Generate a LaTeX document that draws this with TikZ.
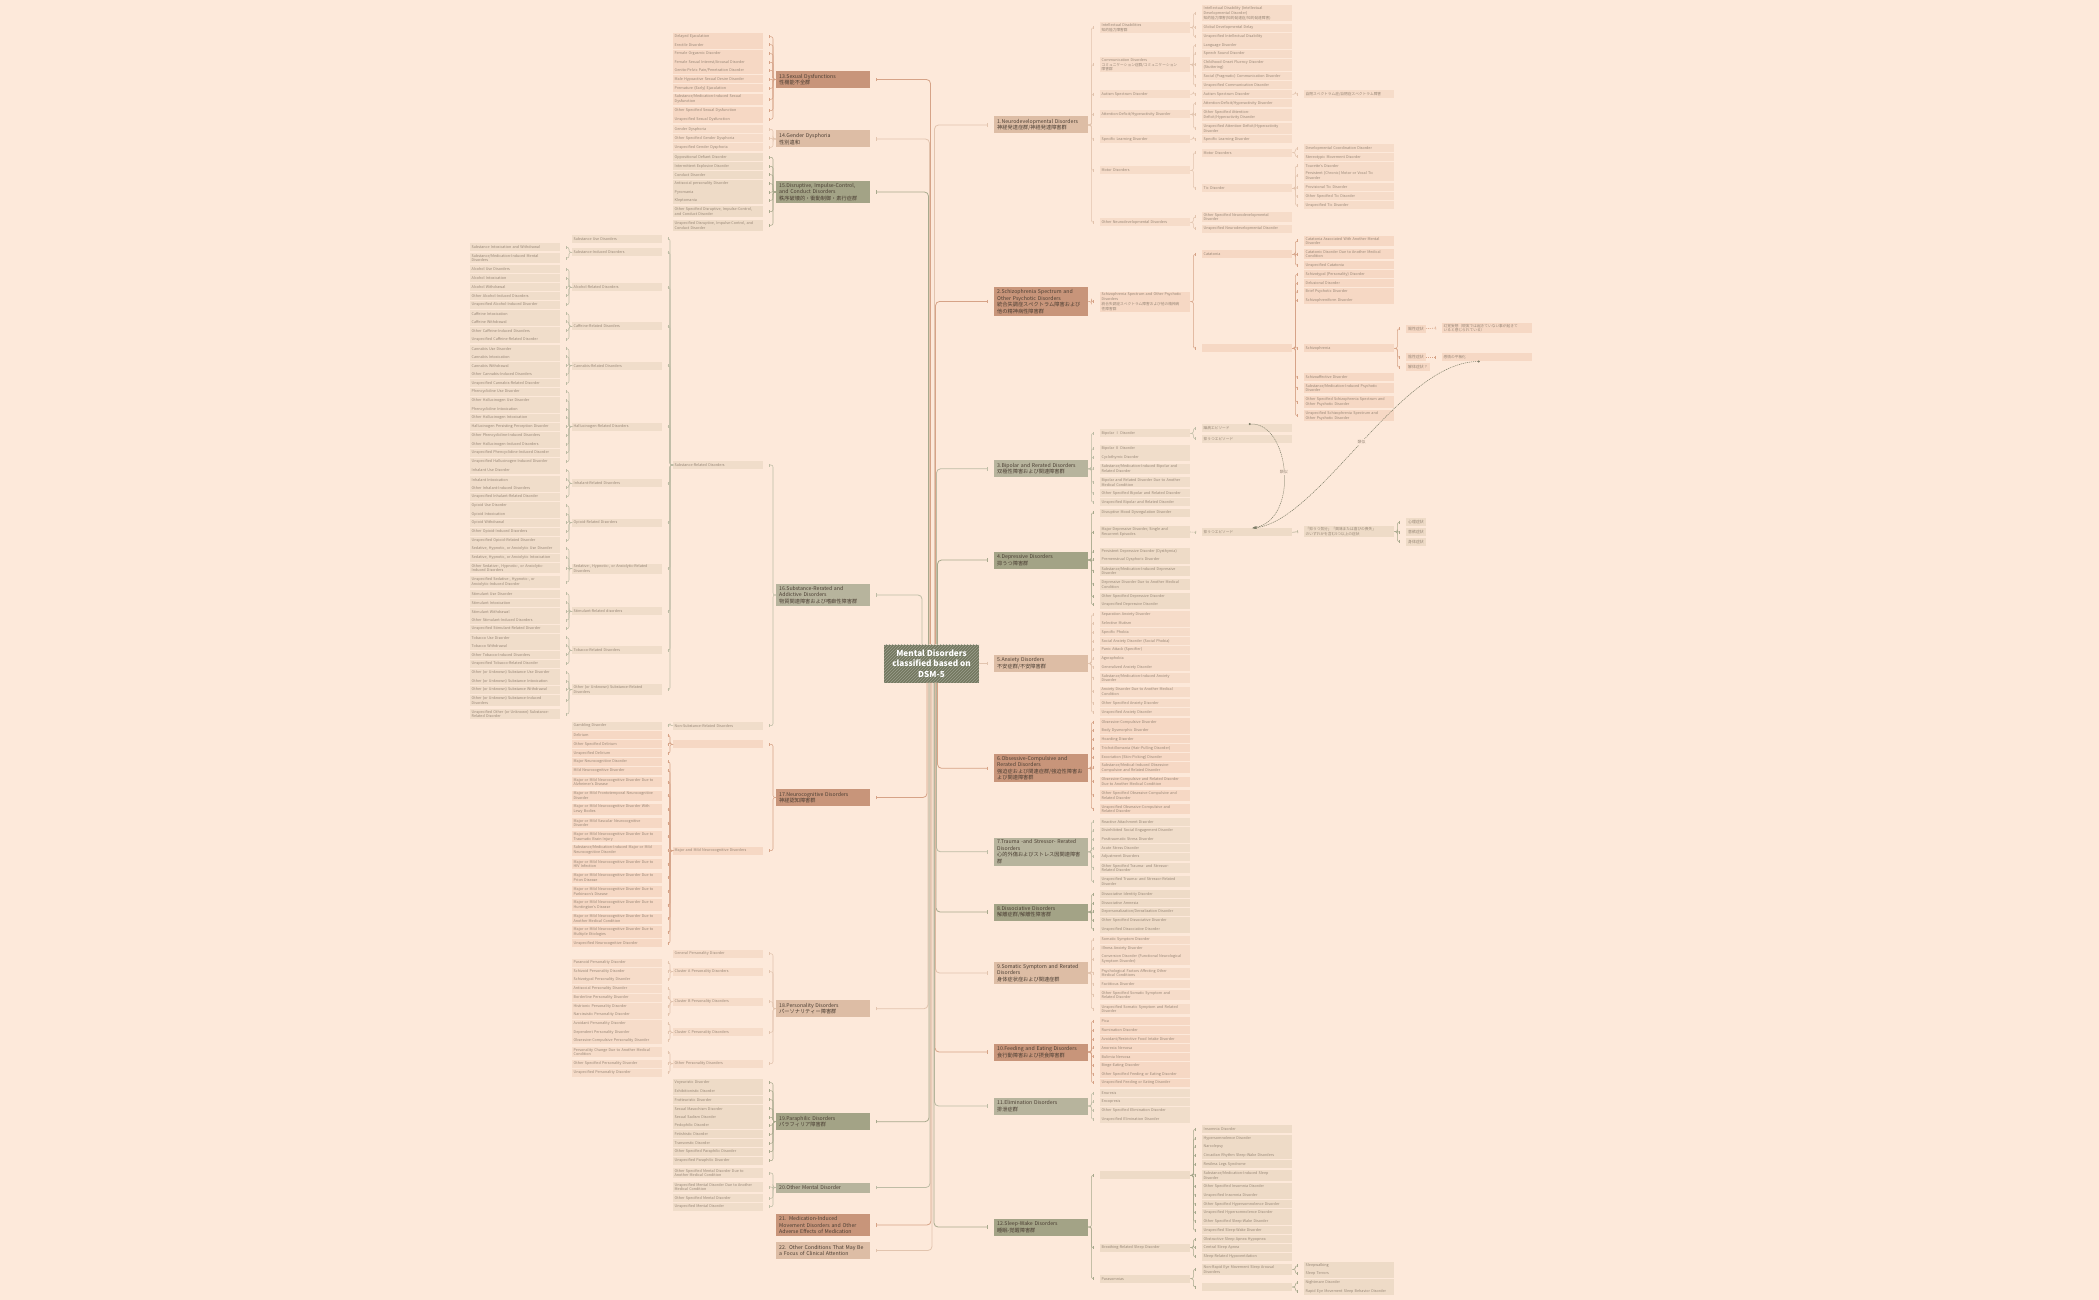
\documentclass[tikz,border=0pt]{standalone}
\usepackage{fontspec}
\setmainfont{Noto Sans CJK JP}
\usetikzlibrary{arrows.meta,patterns}
\XeTeXlinebreaklocale "ja"
\XeTeXlinebreakskip=0pt plus 0.5pt
\definecolor{bg}{HTML}{FDE9DA}
\definecolor{cT}{HTML}{C8957A}
\definecolor{cN}{HTML}{DDBDA5}
\definecolor{cG}{HTML}{B7B49D}
\definecolor{cO}{HTML}{A3A386}
\definecolor{lnT}{HTML}{D6A387}
\definecolor{lnN}{HTML}{E2C4AE}
\definecolor{lnG}{HTML}{BEBCA5}
\definecolor{lnO}{HTML}{A8A98D}
\definecolor{lfT}{HTML}{F6D8C4}
\definecolor{lfN}{HTML}{F6DCC9}
\definecolor{lfG}{HTML}{F0DDCA}
\definecolor{lfO}{HTML}{EEDBC7}
\definecolor{lftx}{HTML}{978676}
\definecolor{ctx}{HTML}{4B3E33}
\definecolor{rootc}{HTML}{73775F}
\definecolor{relc}{HTML}{7E7E68}
\newcommand\kidsR[4]{\foreach [count=\ci] \yy/\txt in {#4}{\node[leaf=#3] (#1-\ci) at (#2,\yy) {\txt}; \draw[conn=#3] (#1.east) -- ++(3,0) |- ([xshift=-6pt]#1-\ci.west);}}
\newcommand\kidsL[4]{\foreach [count=\ci] \yy/\txt in {#4}{\node[leaf=#3] (#1-\ci) at (#2,\yy) {\txt}; \draw[conn=#3] (#1.west) -- ++(-3,0) |- ([xshift=6pt]#1-\ci.east);}}
\begin{document}
\begin{tikzpicture}[x=1pt,y=-1pt,
  leaf/.style={fill=lf#1,text=lftx,font=\fontsize{3.7}{4.8}\selectfont,text width=87pt,inner xsep=1.5pt,inner ysep=1.3pt,minimum height=8pt,align=left,anchor=west},
  sm/.style={fill=lf#1,text=lftx,font=\fontsize{3.9}{4.8}\selectfont,inner xsep=2pt,inner ysep=1.3pt,minimum height=8pt,anchor=west},
  cat/.style={fill=c#1,text=ctx,font=\fontsize{5.2}{6.5}\selectfont,text width=88pt,inner xsep=3pt,inner ysep=2pt,minimum height=17pt,align=left,anchor=west},
  conn/.style={draw=ln#1,line width=0.55pt,rounded corners=2pt,-{Bar[width=3pt,line width=0.55pt]}},
  trunk/.style={draw=ln#1,line width=0.8pt,rounded corners=4pt,-{Bar[width=3.5pt,line width=0.7pt]}},
  rel/.style={draw=relc,line width=0.5pt,dash pattern=on 1.2pt off 0.8pt,{Circle[length=2pt]}-{Stealth[length=4pt,width=3pt]}},
  lbl/.style={fill=bg,text=lftx,font=\fontsize{3.9}{4.8}\selectfont,inner sep=0.8pt}]
\useasboundingbox (0,0) rectangle (2099,1300);
\fill[bg] (0,0) rectangle (2099,1300);

% ---------- root ----------
\node[fill=rootc,postaction={pattern=north east lines,pattern color=rootc!70!white},text=white,font=\bfseries\fontsize{8.2}{10.5}\selectfont,align=center,minimum width=95pt,minimum height=38pt,inner sep=1pt] (root) at (931.5,663.5) {Mental Disorders\\classified based on\\DSM-5};

% ---------- categories ----------
\node[cat=N] (c1) at (994,125) {1.Neurodevelopmental Disorders\\神経発達症群/神経発達障害群};
\node[cat=T] (c2) at (994,301.5) {2.Schizophrenia Spectrum and\\Other Psychotic Disorders\\統合失調症スペクトラム障害および\\他の精神病性障害群};
\node[cat=G] (c3) at (994,468.8) {3.Bipolar and Rerated Disorders\\双極性障害および関連障害群};
\node[cat=O] (c4) at (994,560) {4.Depressive Disorders\\抑うつ障害群};
\node[cat=N] (c5) at (994,663.5) {5.Anxiety Disorders\\不安症群/不安障害群};
\node[cat=T] (c6) at (994,768.3) {6.Obsessive-Compulsive and\\Rerated Disorders\\強迫症および関連症群/強迫性障害お\\よび関連障害群};
\node[cat=G] (c7) at (994,851.8) {7.Trauma -and Stressor- Rerated\\Disorders\\心的外傷およびストレス因関連障害\\群};
\node[cat=O] (c8) at (994,912) {8.Dissociative Disorders\\解離症群/解離性障害群};
\node[cat=N] (c9) at (994,973) {9.Somatic Symptom and Rerated\\Disorders\\身体症状症および関連症群};
\node[cat=T] (c10) at (994,1052) {10.Feeding and Eating Disorders\\食行動障害および摂食障害群};
\node[cat=G] (c11) at (994,1106) {11.Elimination Disorders\\排泄症群};
\node[cat=O] (c12) at (994,1227) {12.Sleep-Wake Disorders\\睡眠-覚醒障害群};
\node[cat=T] (c13) at (776,79.5) {13.Sexual Dysfunctions\\性機能不全群};
\node[cat=N] (c14) at (776,139) {14.Gender Dysphoria\\性別違和};
\node[cat=O] (c15) at (776,192) {15.Disruptive, Impulse-Control,\\and Conduct Disorders\\秩序破壊的・衝動制御・素行症群};
\node[cat=G] (c16) at (776,595) {16.Substance-Rerated and\\Addictive Disorders\\物質関連障害および嗜癖性障害群};
\node[cat=T] (c17) at (776,797.5) {17.Neurocognitive Disorders\\神経認知障害群};
\node[cat=N] (c18) at (776,1008.7) {18.Personality Disorders\\パーソナリティー障害群};
\node[cat=O] (c19) at (776,1121.7) {19.Paraphilic Disorders\\パラフィリア障害群};
\node[cat=G,minimum height=10pt] (c20) at (776,1187.5) {20.Other Mental Disorder};
\node[cat=T] (c21) at (776,1225) {21. Medication-Induced\\Movement Disorders and Other\\Adverse Effects of Medication};
\node[cat=N] (c22) at (776,1250.5) {22. Other Conditions That May Be\\a Focus of Clinical Attention};

% ---------- trunk ----------
\draw[trunk=N] ([xshift=3pt]root.north) |- ([xshift=-6pt]c1.west);
\draw[trunk=T] ([xshift=4pt]root.north) |- ([xshift=-6pt]c2.west);
\draw[trunk=G] ([xshift=5pt]root.north) |- ([xshift=-6pt]c3.west);
\draw[trunk=O] ([xshift=6pt]root.north) |- ([xshift=-6pt]c4.west);
\draw[trunk=N] (root.east) -- ([xshift=-6pt]c5.west);
\draw[trunk=T] ([xshift=6pt]root.south) |- ([xshift=-6pt]c6.west);
\draw[trunk=G] ([xshift=5pt]root.south) |- ([xshift=-6pt]c7.west);
\draw[trunk=O] ([xshift=4.5pt]root.south) |- ([xshift=-6pt]c8.west);
\draw[trunk=N] ([xshift=4pt]root.south) |- ([xshift=-6pt]c9.west);
\draw[trunk=T] ([xshift=3.5pt]root.south) |- ([xshift=-6pt]c10.west);
\draw[trunk=G] ([xshift=3pt]root.south) |- ([xshift=-6pt]c11.west);
\draw[trunk=O] ([xshift=2.5pt]root.south) |- ([xshift=-6pt]c12.west);
\draw[trunk=T] ([xshift=-1pt]root.north) |- ([xshift=6pt]c13.east);
\draw[trunk=N] ([xshift=-2pt]root.north) |- ([xshift=6pt]c14.east);
\draw[trunk=O] ([xshift=-3pt]root.north) |- ([xshift=6pt]c15.east);
\draw[trunk=G] ([xshift=-9.5pt]root.north) |- ([xshift=6pt]c16.east);
\draw[trunk=T] ([xshift=-4.5pt]root.south) |- ([xshift=6pt]c17.east);
\draw[trunk=N] ([xshift=-3.5pt]root.south) |- ([xshift=6pt]c18.east);
\draw[trunk=O] ([xshift=-2.5pt]root.south) |- ([xshift=6pt]c19.east);
\draw[trunk=G] ([xshift=-1.5pt]root.south) |- ([xshift=6pt]c20.east);
\draw[trunk=T] ([xshift=-0.5pt]root.south) |- ([xshift=6pt]c21.east);
\draw[trunk=N] ([xshift=0.5pt]root.south) |- ([xshift=6pt]c22.east);

% ---------- left side ----------
\kidsL{c13}{673}{T}{36.7/{Delayed Ejaculation},44.7/{Erectile Disorder},53.7/{Female Orgasmic Disorder},62.3/{Female Sexual Interest/Arousal Disorder},70.3/{Genito-Pelvic Pain/Penetration Disorder},79.3/{Male Hypoactive Sexual Desire Disorder},88.3/{Premature (Early) Ejaculation},99.3/{Substance/Medication-Induced Sexual\\Dysfunction},110.7/{Other Specified Sexual Dysfunction},119.3/{Unspecified Sexual Dysfunction}}
\kidsL{c14}{673}{N}{129.3/{Gender Dysphoria},138.3/{Other Specified Gender Dysphoria},147.3/{Unspecified Gender Dysphoria}}
\kidsL{c15}{673}{O}{157.3/{Oppositional Defiant Disorder},166.3/{Intermittent Explosive Disorder},174.7/{Conduct Disorder},183.7/{Antisocial personality Disorder},192.3/{Pyromania},200.3/{Kleptomania},211.7/{Other Specified Disruptive, Impulse-Control,\\and Conduct Disorder},225.3/{Unspecified Disruptive, Impulse-Control, and\\Conduct Disorder}}
\kidsL{c16}{673}{G}{465/{Substance-Related Disorders},725.7/{Non-Substance-Related Disorders}}
\kidsL{c16-1}{572}{G}{238.7/{Substance Use Disorders},252.3/{Substance-Induced Disorders},287.3/{Alcohol-Related Disorders},326.3/{Caffeine-Related Disorders},365.7/{Cannabis-Related Disorders},426.7/{Hallucinogen-Related Disorders},483.3/{Inhalant-Related Disorders},522.7/{Opioid-Related Disorders},568.7/{Sedative-, Hypnotic-, or Anxiolytic-Related\\Disorders},611.3/{Stimulant-Related disorders},650.3/{Tobacco-Related Disorders},689.7/{Other (or Unknown) Substance-Related\\Disorders}}
\kidsL{c16-2}{572}{G}{725.7/{Gambling Disorder}}
\kidsL{c16-1-2}{470}{G}{247.3/{Substance Intoxication and Withdrawal},258/{Substance/Medication-Induced Mental\\Disorders}}
\kidsL{c16-1-3}{470}{G}{269.3/{Alcohol Use Disorders},278.3/{Alcohol Intoxication},287.3/{Alcohol Withdrawal},295.7/{Other Alcohol-Induced Disorders},304.7/{Unspecified Alcohol-Induced Disorder}}
\kidsL{c16-1-4}{470}{G}{313.7/{Caffeine Intoxication},321.7/{Caffeine Withdrawal},330.7/{Other Caffeine-Induced Disorders},339.3/{Unspecified Caffeine-Related Disorder}}
\kidsL{c16-1-5}{470}{G}{348.7/{Cannabis Use Disorder},356.7/{Cannabis Intoxication},365.7/{Cannabis Withdrawal},374.3/{Other Cannabis-Induced Disorders},383.3/{Unspecified Cannabis-Related Disorder}}
\kidsL{c16-1-6}{470}{G}{391.7/{Phencyclidine Use Disorder},400.7/{Other Hallucinogen Use Disorder},409.3/{Phencyclidine Intoxication},417.7/{Other Hallucinogen Intoxication},426.7/{Hallucinogen Persisting Perception Disorder},435.7/{Other Phencyclidine-Induced Disorders},444.3/{Other Hallucinogen-Induced Disorders},452.7/{Unspecified Phencyclidine-Induced Disorder},461.7/{Unspecified Hallucinogen-Induced Disorder}}
\kidsL{c16-1-7}{470}{G}{470.3/{Inhalant Use Disorder},479.7/{Inhalant Intoxication},487.7/{Other Inhalant-Induced Disorders},496.7/{Unspecified Inhalant-Related Disorder}}
\kidsL{c16-1-8}{470}{G}{505.7/{Opioid Use Disorder},514/{Opioid Intoxication},522.7/{Opioid Withdrawal},531.7/{Other Opioid-Induced Disorders},540.7/{Unspecified Opioid-Related Disorder}}
\kidsL{c16-1-9}{470}{G}{548.7/{Sedative, Hypnotic, or Anxiolytic Use Disorder},557.7/{Sedative, Hypnotic, or Anxiolytic Intoxication},568/{Other Sedative-, Hypnotic-, or Anxiolytic-\\Induced Disorders},582/{Unspecified Sedative-, Hypnotic-, or\\Anxiolytic-Induced Disorder}}
\kidsL{c16-1-10}{470}{G}{593.7/{Stimulant Use Disorder},602.7/{Stimulant Intoxication},611.7/{Stimulant Withdrawal},620/{Other Stimulant-Induced Disorders},628.7/{Unspecified Stimulant-Related Disorder}}
\kidsL{c16-1-11}{470}{G}{637.7/{Tobacco Use Disorder},645.7/{Tobacco Withdrawal},654.7/{Other Tobacco-Induced Disorders},663.7/{Unspecified Tobacco-Related Disorder}}
\kidsL{c16-1-12}{470}{G}{672.7/{Other (or Unknown) Substance Use Disorder},681/{Other (or Unknown) Substance Intoxication},689.7/{Other (or Unknown) Substance Withdrawal},700.7/{Other (or Unknown) Substance-Induced\\Disorders},714/{Unspecified Other (or Unknown) Substance-\\Related Disorder}}
\kidsL{c17}{673}{T}{744.3/{},850.7/{Major and Mild Neurocognitive Disorders}}
\kidsL{c17-1}{572}{T}{735.3/{Delirium},744.3/{Other Specified Delirium},753.3/{Unspecified Delirium}}
\kidsL{c17-2}{572}{T}{761.7/{Major Neurocognitive Disorder},770.7/{Mild Neurocognitive Disorder},782/{Major or Mild Neurocognitive Disorder Due to\\Alzheimer's Disease},795.7/{Major or Mild Frontotemporal Neurocognitive\\Disorder},809.3/{Major or Mild Neurocognitive Disorder With\\Lewy Bodies},823/{Major or Mild Vascular Neurocognitive\\Disorder},836.7/{Major or Mild Neurocognitive Disorder Due to\\Traumatic Brain Injury},850.3/{Substance/Medication-Induced Major or Mild\\Neurocognitive Disorder},864/{Major or Mild Neurocognitive Disorder Due to\\HIV Infection},877.7/{Major or Mild Neurocognitive Disorder Due to\\Prion Disease},891.3/{Major or Mild Neurocognitive Disorder Due to\\Parkinson's Disease},905/{Major or Mild Neurocognitive Disorder Due to\\Huntington's Disease},918.7/{Major or Mild Neurocognitive Disorder Due to\\Another Medical Condition},932/{Major or Mild Neurocognitive Disorder Due to\\Multiple Etiologies},943.3/{Unspecified Neurocognitive Disorder}}
\kidsL{c18}{673}{N}{953.7/{General Personality Disorder},971.7/{Cluster A Personality Disorders},1001.7/{Cluster B Personality Disorders},1032.3/{Cluster C Personality Disorders},1063.7/{Other Personality Disorders}}
\kidsL{c18-2}{572}{N}{962.7/{Paranoid Personality Disorder},971.7/{Schizoid Personality Disorder},979.7/{Schizotypal Personality Disorder}}
\kidsL{c18-3}{572}{N}{988.7/{Antisocial Personality Disorder},997.7/{Borderline Personality Disorder},1006.7/{Histrionic Personality Disorder},1014.7/{Narcissistic Personality Disorder}}
\kidsL{c18-4}{572}{N}{1023.7/{Avoidant Personality Disorder},1032.3/{Dependent Personality Disorder},1040.3/{Obsessive-Compulsive Personality Disorder}}
\kidsL{c18-5}{572}{N}{1052/{Personality Change Due to Another Medical\\Condition},1063.7/{Other Specified Personality Disorder},1072.7/{Unspecified Personality Disorder}}
\kidsL{c19}{673}{O}{1082.7/{Voyeuristic Disorder},1090.7/{Exhibitionistic Disorder},1099.7/{Frotteuristic Disorder},1108.7/{Sexual Masochism Disorder},1117.3/{Sexual Sadism Disorder},1125.3/{Pedophilic Disorder},1134.3/{Fetishistic Disorder},1143.3/{Transvestic Disorder},1151.7/{Other Specified Paraphilic Disorder},1160.7/{Unspecified Paraphilic Disorder}}
\kidsL{c20}{673}{G}{1173/{Other Specified Mental Disorder Due to\\Another Medical Condition},1187/{Unspecified Mental Disorder Due to Another\\Medical Condition},1198.3/{Other Specified Mental Disorder},1206.7/{Unspecified Mental Disorder}}

% ---------- right side ----------
\kidsR{c1}{1100}{N}{27.7/{Intellectual Disabilities\\知的能力障害群},64.7/{Communication Disorders\\コミュニケーション症群/コミュニケーション\\障害群},94.3/{Autism Spectrum Disorder},114.3/{Attention-Deficit/Hyperactivity Disorder},139.3/{Specific Learning Disorder},170.3/{Motor Disorders},222.3/{Other Neurodevelopmental Disorders}}
\kidsR{c1-1}{1202}{N}{13.3/{Intellectual Disability (Intellectual\\Developmental Disorder)\\知的能力障害(知的発達症/知的発達障害)},27.7/{Global Developmental Delay},36.7/{Unspecified Intellectual Disability}}
\kidsR{c1-2}{1202}{N}{45.3/{Language Disorder},53.7/{Speech Sound Disorder},65/{Childhood-Onset Fluency Disorder\\(Stuttering)},76.3/{Social (Pragmatic) Communication Disorder},85.3/{Unspecified Communication Disorder}}
\kidsR{c1-3}{1202}{N}{94.3/{Autism Spectrum Disorder}}
\kidsR{c1-3-1}{1304}{N}{94.3/{自閉スペクトラム症/自閉症スペクトラム障害}}
\kidsR{c1-4}{1202}{N}{103.3/{Attention-Deficit/Hyperactivity Disorder},115/{Other Specified Attention-\\Deficit/Hyperactivity Disorder},128.3/{Unspecified Attention-Deficit/Hyperactivity\\Disorder}}
\kidsR{c1-5}{1202}{N}{139.3/{Specific Learning Disorder}}
\kidsR{c1-6}{1202}{N}{152.7/{Motor Disorders},188.3/{Tic Disorder}}
\kidsR{c1-6-1}{1304}{N}{148.5/{Developmental Coordination Disorder},157/{Stereotypic Movement Disorder}}
\kidsR{c1-6-2}{1304}{N}{166/{Tourette's Disorder},175.5/{Persistent (Chronic) Motor or Vocal Tic\\Disorder},187.5/{Provisional Tic Disorder},196.5/{Other Specified Tic Disorder},205.5/{Unspecified Tic Disorder}}
\kidsR{c1-7}{1202}{N}{217/{Other Specified Neurodevelopmental\\Disorder},228.7/{Unspecified Neurodevelopmental Disorder}}

\kidsR{c2}{1100}{T}{301.7/{Schizophrenia Spectrum and Other Psychotic\\Disorders\\統合失調症スペクトラム障害および他の精神病\\性障害群}}
\kidsR{c2-1}{1202}{T}{254.3/{Catatonia},348.3/{}}
\kidsR{c2-1-1}{1304}{T}{241/{Catatonia Associated With Another Mental\\Disorder},254/{Catatonic Disorder Due to Another Medical\\Condition},265.3/{Unspecified Catatonia}}
\kidsR{c2-1-2}{1304}{T}{274.3/{Schizotypal (Personality) Disorder},283.3/{Delusional Disorder},291.7/{Brief Psychotic Disorder},300.3/{Schizophreniform Disorder},348.3/{Schizophrenia},377.3/{Schizoaffective Disorder},388/{Substance/Medication-Induced Psychotic\\Disorder},402/{Other Specified Schizophrenia Spectrum and\\Other Psychotic Disorder},415.7/{Unspecified Schizophrenia Spectrum and\\Other Psychotic Disorder}}
\node[sm=T] (sz1) at (1406,328.7) {陽性症状};
\node[sm=T] (sz2) at (1406,357.3) {陰性症状};
\node[sm=T] (sz3) at (1406,367.3) {解体症状？};
\foreach \s in {sz1,sz2,sz3} \draw[conn=T] (c2-1-2-5.east) -- ++(3,0) |- ([xshift=-6pt]\s.west);
\node[leaf=T] (sz1a) at (1442,328) {幻覚妄想（現実では起きていない事が起きて\\いると感じられている）};
\node[leaf=T] (sz2a) at (1442,357.3) {感情の平板化};
\draw[conn=T,dash pattern=on 1pt off 1pt] (sz1.east) -- ([xshift=-6pt]sz1a.west);
\draw[conn=T,dash pattern=on 1pt off 1pt] (sz2.east) -- ([xshift=-6pt]sz2a.west);

\kidsR{c3}{1100}{G}{433.3/{Bipolar Ⅰ Disorder},448.7/{Bipolar Ⅱ Disorder},457.3/{Cyclothymic Disorder},468.7/{Substance/Medication-Induced Bipolar and\\Related Disorder},482.3/{Bipolar and Related Disorder Due to Another\\Medical Condition},493.3/{Other Specified Bipolar and Related Disorder},502.3/{Unspecified Bipolar and Related Disorder}}
\kidsR{c3-1}{1202}{G}{428.3/{躁病エピソード},438.7/{抑うつエピソード}}

\kidsR{c4}{1100}{O}{512.7/{Disruptive Mood Dysregulation Disorder},532/{Major Depressive Disorder, Single and\\Recurrent Episodes},551.7/{Persistent Depressive Disorder (Dysthymia)},559.7/{Premenstrual Dysphoric Disorder},571/{Substance/Medication-Induced Depressive\\Disorder},584.3/{Depressive Disorder Due to Another Medical\\Condition},596.7/{Other Specified Depressive Disorder},604.7/{Unspecified Depressive Disorder}}
\node[leaf=O] (dep1) at (1202,532.3) {抑うつエピソード};
\draw[conn=O,dash pattern=on 1pt off 1pt] (c4-2.east) -- ([xshift=-6pt]dep1.west);
\node[leaf=O] (dep2) at (1304,531.7) {「抑うつ気分」「興味または喜びの喪失」\\のいずれかを含む5つ以上の症状};
\draw[conn=O] (dep1.east) -- ([xshift=-6pt]dep2.west);
\node[sm=O] (dep3) at (1406,522.3) {心理症状};
\node[sm=O] (dep4) at (1406,532.3) {意欲症状};
\node[sm=O] (dep5) at (1406,541.7) {身体症状};
\foreach \s in {dep3,dep4,dep5} \draw[conn=O] (dep2.east) -- ++(3,0) |- ([xshift=-6pt]\s.west);

\kidsR{c5}{1100}{N}{614.7/{Separation Anxiety Disorder},623.3/{Selective Mutism},632.3/{Specific Phobia},641.3/{Social Anxiety Disorder (Social Phobia)},649.7/{Panic Attack (Specifier)},658.7/{Agoraphobia},667.3/{Generalized Anxiety Disorder},678/{Substance/Medication-Induced Anxiety\\Disorder},691.7/{Anxiety Disorder Due to Another Medical\\Condition},703.3/{Other Specified Anxiety Disorder},712.3/{Unspecified Anxiety Disorder}}
\kidsR{c6}{1100}{T}{722.3/{Obsessive-Compulsive Disorder},730.3/{Body Dysmorphic Disorder},739.3/{Hoarding Disorder},748.3/{Trichotillomania (Hair-Pulling Disorder)},757.3/{Excoriation (Skin-Picking) Disorder},767.7/{Substance/Medical-Induced Obsessive-\\Compulsive and Related Disorder},781.7/{Obsessive-Compulsive and Related Disorder\\Due to Another Medical Condition},795.3/{Other Specified Obsessive-Compulsive and\\Related Disorder},809/{Unspecified Obsessive-Compulsive and\\Related Disorder}}
\kidsR{c7}{1100}{G}{821.7/{Reactive Attachment Disorder},830.7/{Disinhibited Social Engagement Disorder},839.3/{Posttraumatic Stress Disorder},848.3/{Acute Stress Disorder},856.7/{Adjustment Disorders},868/{Other Specified Trauma- and Stressor-\\Related Disorder},881.7/{Unspecified Trauma- and Stressor-Related\\Disorder}}
\kidsR{c8}{1100}{O}{894.3/{Dissociative Identity Disorder},903.3/{Dissociative Amnesia},911.7/{Depersonalization/Derealization Disorder},920.7/{Other Specified Dissociative Disorder},929.3/{Unspecified Dissociative Disorder}}
\kidsR{c9}{1100}{N}{939.7/{Somatic Symptom Disorder},948.7/{Illness Anxiety Disorder},959/{Conversion Disorder (Functional Neurological\\Symptom Disorder)},973/{Psychological Factors Affecting Other\\Medical Conditions},984.3/{Factitious Disorder},995/{Other Specified Somatic Symptom and\\Related Disorder},1009/{Unspecified Somatic Symptom and Related\\Disorder}}
\kidsR{c10}{1100}{T}{1021.3/{Pica},1030.3/{Rumination Disorder},1039.3/{Avoidant/Restrictive Food Intake Disorder},1047.7/{Anorexia Nervosa},1056.7/{Bulimia Nervosa},1065.7/{Binge-Eating Disorder},1074.3/{Other Specified Feeding or Eating Disorder},1082.7/{Unspecified Feeding or Eating Disorder}}
\kidsR{c11}{1100}{G}{1093.3/{Enuresis},1101.7/{Encopresis},1110.7/{Other Specified Elimination Disorder},1119.3/{Unspecified Elimination Disorder}}
\kidsR{c12}{1100}{O}{1175.3/{},1247.7/{Breathing-Related Sleep Disorder},1278.7/{Parasomnias}}
\kidsR{c12-1}{1202}{O}{1129.3/{Insomnia Disorder},1138.7/{Hypersomnolence Disorder},1146.7/{Narcolepsy},1155.3/{Circadian Rhythm Sleep-Wake Disorders},1164.3/{Restless Legs Syndrome},1175.3/{Substance/Medication-Induced Sleep\\Disorder},1186.7/{Other Specified Insomnia Disorder},1195.3/{Unspecified Insomnia Disorder},1204.3/{Other Specified Hypersomnolence Disorder},1212.7/{Unspecified Hypersomnolence Disorder},1221.3/{Other Specified Sleep-Wake Disorder},1230.3/{Unspecified Sleep-Wake Disorder}}
\kidsR{c12-2}{1202}{O}{1239.3/{Obstructive Sleep Apnea Hypopnea},1247.7/{Central Sleep Apnea},1256.7/{Sleep-Related Hypoventilation}}
\kidsR{c12-3}{1202}{O}{1269.3/{Non-Rapid Eye Movement Sleep Arousal\\Disorders},1287/{}}
\kidsR{c12-3-1}{1304}{O}{1265.7/{Sleepwalking},1273.7/{Sleep Terrors}}
\kidsR{c12-3-2}{1304}{O}{1282.7/{Nightmare Disorder},1291.3/{Rapid Eye Movement Sleep Behavior Disorder}}

% ---------- relationships ----------
\draw[rel] ([xshift=1.5pt]c3-1-1.north) .. controls (1290,422) and (1300,520) .. node[lbl,pos=0.5] (simA) {類似} ([xshift=5pt]dep1.north);
\draw[rel] ([xshift=-7.5pt]sz2a.south) .. controls (1400,362) and (1320,520) .. node[lbl,pos=0.5] (simB) {類似} ([xshift=6pt]dep1.north);
\end{tikzpicture}
\end{document}
